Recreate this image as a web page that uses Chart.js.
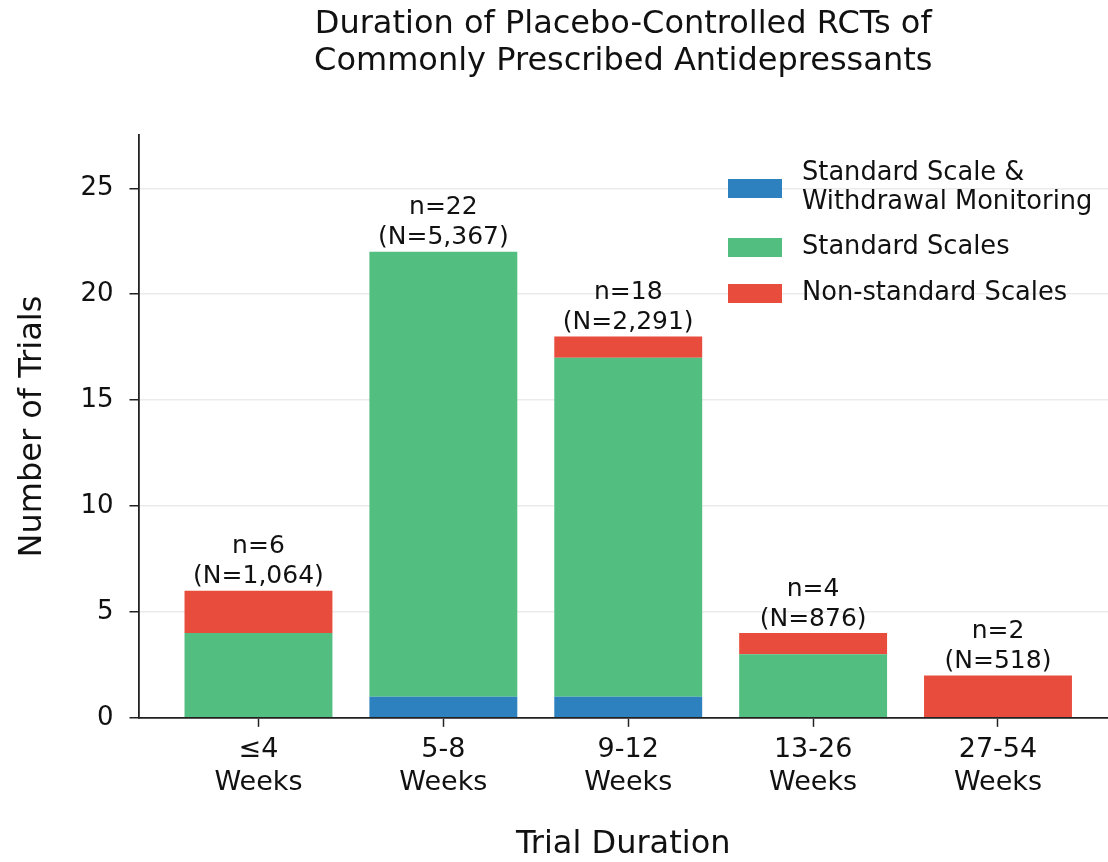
<!DOCTYPE html>
<html>
<head>
<meta charset="utf-8">
<script src="https://cdn.jsdelivr.net/npm/chart.js@4"></script>
<style>
  body { margin: 0; background: #fff; }
  canvas { display: block; }
</style>
</head>
<body>
<canvas id="durationChart" width="1108" height="862"></canvas>
<script>
const categories = [["≤4", "Weeks"], ["5-8", "Weeks"], ["9-12", "Weeks"], ["13-26", "Weeks"], ["27-54", "Weeks"]];
const withdrawalCounts = [0, 1, 1, 0, 0];
const standardCounts = [4, 21, 16, 3, 0];
const nonStandardCounts = [2, 0, 1, 1, 2];
const trialLabels = ["n=6", "n=22", "n=18", "n=4", "n=2"];
const participantLabels = ["(N=1,064)", "(N=5,367)", "(N=2,291)", "(N=876)", "(N=518)"];

const FONT = "'DejaVu Sans', sans-serif";
const toPoints = arr => arr.map((v, i) => ({ x: i, y: v }));

// n / N labels above each stack
const barLabels = {
    id: "barLabels",
    afterDatasetsDraw(chart) {
        const ctx = chart.ctx;
        const xs = chart.scales.x, ys = chart.scales.y;
        ctx.save();
        ctx.fillStyle = "#111";
        ctx.font = "25px " + FONT;
        ctx.textAlign = "center";
        ctx.textBaseline = "middle";
        categories.forEach((c, i) => {
            const total = withdrawalCounts[i] + standardCounts[i] + nonStandardCounts[i];
            const x = xs.getPixelForValue(i);
            const top = ys.getPixelForValue(total);
            ctx.fillText(trialLabels[i], x, top - 44);
            ctx.fillText(participantLabels[i], x, top - 14);
        });
        ctx.restore();
    }
};

// legend in the upper right, top entry first
const insideLegend = {
    id: "insideLegend",
    afterDraw(chart) {
        const ctx = chart.ctx;
        const items = [
            { lines: ["Standard Scale &", "Withdrawal Monitoring"], color: chart.data.datasets[0].backgroundColor, y: 188 },
            { lines: ["Standard Scales"], color: chart.data.datasets[1].backgroundColor, y: 247 },
            { lines: ["Non-standard Scales"], color: chart.data.datasets[2].backgroundColor, y: 293 }
        ];
        ctx.save();
        ctx.font = "25.7px " + FONT;
        ctx.textBaseline = "middle";
        ctx.textAlign = "left";
        items.forEach(it => {
            ctx.fillStyle = it.color;
            ctx.fillRect(728, it.y - 9, 54, 19);
            ctx.fillStyle = "#111";
            const h = 29;
            const y0 = it.y - (it.lines.length - 1) * h / 2;
            it.lines.forEach((l, k) => ctx.fillText(l, 802, y0 + k * h));
        });
        ctx.restore();
    }
};

new Chart(document.getElementById("durationChart").getContext("2d"), {
    type: "bar",
    data: {
        datasets: [
            { label: "Standard Scale & Withdrawal Monitoring", data: toPoints(withdrawalCounts), backgroundColor: "#2e81bf" },
            { label: "Standard Scales", data: toPoints(standardCounts), backgroundColor: "#52be80" },
            { label: "Non-standard Scales", data: toPoints(nonStandardCounts), backgroundColor: "#e74c3c" }
        ]
    },
    options: {
        responsive: false,
        animation: false,
        layout: { padding: { left: 13, right: 0, top: 7, bottom: 0 } },
        datasets: { bar: { barPercentage: 0.8, categoryPercentage: 1, borderWidth: 0 } },
        plugins: {
            legend: { display: false },
            tooltip: { enabled: false },
            title: {
                display: true,
                fullSize: false,
                text: ["Duration of Placebo-Controlled RCTs of", "Commonly Prescribed Antidepressants"],
                color: "#111",
                font: { family: FONT, size: 32, weight: "normal", lineHeight: 1.13 },
                padding: { top: 0, bottom: 56 }
            }
        },
        scales: {
            x: {
                type: "linear",
                stacked: true,
                offset: false,
                min: -0.649,
                max: 4.595,
                afterBuildTicks: axis => {
                    axis.ticks = categories.map((c, i) => ({ value: i }));
                },
                ticks: {
                    autoSkip: false,
                    maxRotation: 0,
                    color: "#111",
                    padding: 6,
                    font: { family: FONT, size: 27, lineHeight: 1.24 },
                    callback: v => categories[v]
                },
                grid: { offset: false, drawOnChartArea: false, drawTicks: true, tickLength: 9, tickColor: "#222", tickWidth: 1.5 },
                border: { display: true, color: "#222", width: 1.8 },
                title: {
                    display: true,
                    text: "Trial Duration",
                    color: "#111",
                    font: { family: FONT, size: 32, lineHeight: 1.1 },
                    padding: { top: 21, bottom: 0 }
                }
            },
            y: {
                stacked: true,
                min: 0,
                max: 27.5,
                afterBuildTicks: axis => {
                    axis.ticks = [0, 5, 10, 15, 20, 25].map(v => ({ value: v }));
                },
                ticks: {
                    color: "#111",
                    padding: 16,
                    font: { family: FONT, size: 26 }
                },
                grid: { color: "#ebebeb", lineWidth: 1.5, tickLength: 9, tickColor: "#222", tickWidth: 1.5 },
                border: { display: true, color: "#222", width: 1.8 },
                title: {
                    display: true,
                    text: "Number of Trials",
                    color: "#111",
                    font: { family: FONT, size: 32, lineHeight: 1.2 },
                    padding: { top: 0, bottom: 13 }
                }
            }
        }
    },
    plugins: [barLabels, insideLegend]
});
</script>
</body>
</html>
